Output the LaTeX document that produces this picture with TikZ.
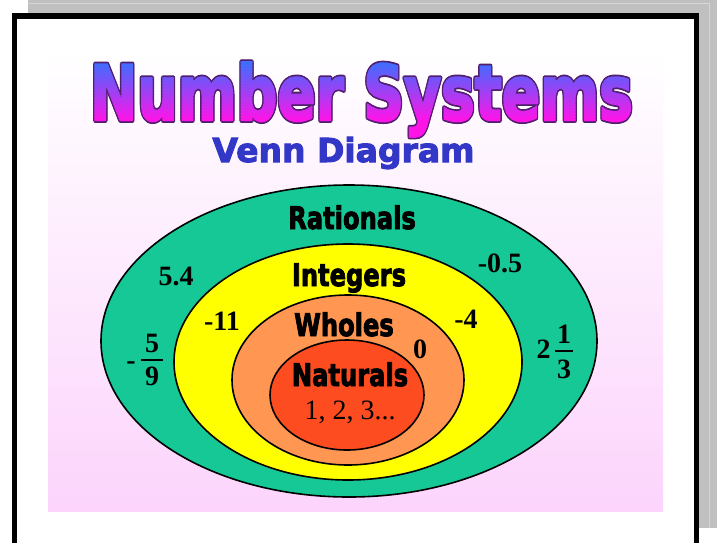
\documentclass[tikz,border=0pt]{standalone}
\usepackage{fontspec}
\setmainfont{Liberation Serif}
\newfontfamily\heavyfont[BoldFeatures={FakeBold=3}]{DejaVu Sans}
\usepackage{xcolor}
\usepackage{tikz}

\definecolor{framegray}{RGB}{192,192,192}
\definecolor{framelight}{RGB}{214,214,214}
\definecolor{panelpink}{RGB}{252,212,252}
\definecolor{titletop}{RGB}{64,108,255}
\definecolor{titlebottom}{RGB}{255,20,232}
\definecolor{titleedge}{RGB}{82,30,110}
\definecolor{vennblue}{RGB}{50,55,200}
\definecolor{rationalgreen}{RGB}{22,200,150}
\definecolor{integeryellow}{RGB}{255,255,0}
\definecolor{wholeorange}{RGB}{255,150,82}
\definecolor{naturalred}{RGB}{252,76,32}

\newcommand{\titlefont}{\heavyfont\bfseries\fontsize{76}{80}\selectfont}

\begin{document}
\begin{tikzpicture}[x=1pt, y=-1pt,
    titletext/.style={font=\titlefont, xscale=0.745, anchor=base, inner sep=0pt},
    setlabel/.style={font=\heavyfont\bfseries\fontsize{31}{33}\selectfont, xscale=0.78, anchor=base, inner sep=0pt},
    numtext/.style={font=\bfseries\fontsize{28}{30}\selectfont, anchor=base, inner sep=0pt},
    setline/.style={draw=black, line width=1.6pt}]
  \useasboundingbox (0,0) rectangle (717,542);

  % Window behind the card
  \fill[framegray] (28,0) rectangle (717,528);
  \draw[framelight, line width=1pt] (28,3.5) -- (709.5,3.5) -- (709.5,528);

  % Card
  \draw[line width=5.5pt, fill=white] (14.5,16) rectangle (696.5,580);
  \shade[top color=white, bottom color=panelpink] (48,50) rectangle (663,511);

  % Title: dark rim, then the letters in bands from blue to magenta
  \foreach \a in {0,45,...,315}
    \node[titletext, text=titleedge, shift={(\a:1.8)}] at (361.5,120) {Number Systems};
  \foreach \i in {0,...,27} {
    \pgfmathsetmacro{\p}{min(100,max(0,(56+3*\i-62)/57*100))}
    \begin{scope}
      \clip (70,56+3*\i) rectangle (655,59.4+3*\i);
      \node[titletext, text=titlebottom!\p!titletop] at (361.5,120) {Number Systems};
    \end{scope}
  }
  \node[titletext] (title) at (361.5,120) {\phantom{Number Systems}};
  \node[font=\heavyfont\bfseries\fontsize{33}{36}\selectfont, text=vennblue, xscale=1.0,
    anchor=base, inner sep=0pt] (subtitle) at (343.5,162) {Venn Diagram};

  % Sets
  \path[setline, fill=rationalgreen] (349,341) ellipse [x radius=248, y radius=156];
  \path[setline, fill=integeryellow] (348,362) ellipse [x radius=174, y radius=118];
  \path[setline, fill=wholeorange] (348,380) ellipse [x radius=116, y radius=85];
  \path[setline, fill=naturalred] (347,395) ellipse [x radius=77, y radius=55];

  % Set names
  \node[setlabel] (rationals) at (352,229) {Rationals};
  \node[setlabel] (integers) at (349,286) {Integers};
  \node[setlabel] (wholes) at (344,336) {Wholes};
  \node[setlabel] (naturals) at (350,386) {Naturals};
  \node[font=\fontsize{28}{30}\selectfont, anchor=base, inner sep=0pt] (counting) at (350,419) {1, 2, 3...};

  % Members
  \node[numtext] (fivefour) at (176,285) {5.4};
  \node[numtext] (halfneg) at (500,272) {-0.5};
  \node[numtext] (elevenneg) at (222,330) {-11};
  \node[numtext] (fourneg) at (466,328) {-4};
  \node[numtext] (zero) at (420,358) {0};

  % -5/9
  \node[numtext] (fracminus) at (131,369) {-};
  \node[numtext] (fivetop) at (152,352) {5};
  \node[numtext] (ninebot) at (152,385) {9};
  \draw[line width=1.6pt] (141,360) -- (163,360);

  % 2 1/3
  \node[numtext] (whole) at (543.5,358) {2};
  \node[numtext] (onetop) at (564,343) {1};
  \node[numtext] (threebot) at (564,378) {3};
  \draw[line width=1.6pt] (555,351) -- (573,351);
\end{tikzpicture}
\end{document}
